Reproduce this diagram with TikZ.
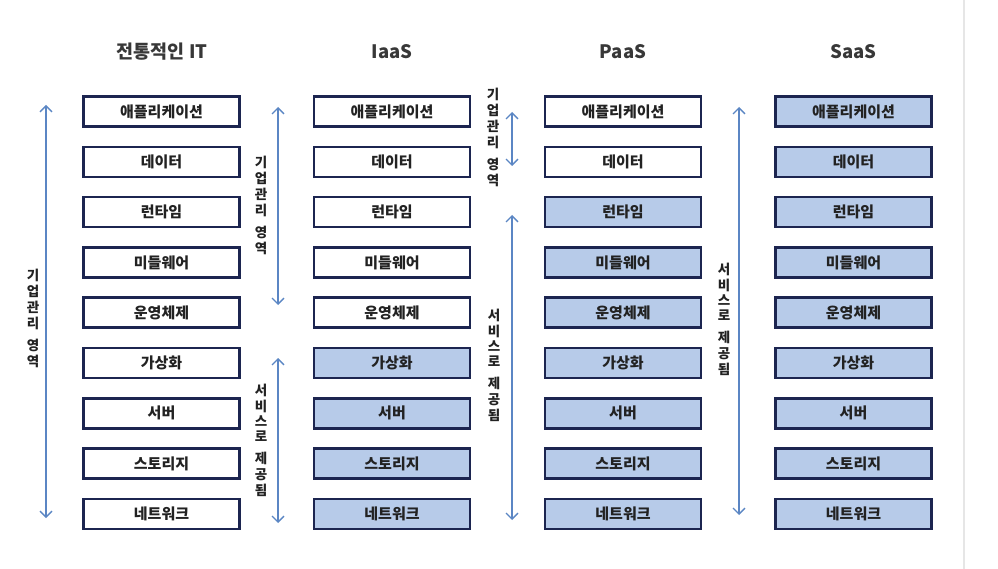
\documentclass[tikz,border=0pt]{standalone}
\usepackage{fontspec}
\setmainfont{Noto Sans CJK KR}
\usetikzlibrary{arrows.meta}
\definecolor{boxline}{HTML}{1C2550}
\definecolor{boxfill}{HTML}{B7CBE9}
\definecolor{arrowblue}{HTML}{5B86C4}
\definecolor{txt}{HTML}{222222}
\definecolor{edge}{HTML}{E6E6E6}
\newcommand{\vstack}[2]{{\bfseries\renewcommand{\arraystretch}{0.98}\setlength{\tabcolsep}{0pt}\begin{tabular}{c}#1\\[6pt]#2\end{tabular}}}
\begin{document}
\begin{tikzpicture}[x=1pt,y=-1pt,
  layer/.style={draw=boxline, line width=2.5pt, minimum width=156pt, minimum height=30pt,
    inner sep=0pt, font=\bfseries\fontsize{15}{15}\selectfont, text=txt, fill=white},
  svc/.style={layer, fill=boxfill},
  coltitle/.style={font=\bfseries\fontsize{18.5}{18.5}\selectfont, text=black!78},
  vlabel/.style={font=\fontsize{13.5}{15.5}\selectfont\bfseries, text=txt, inner sep=0pt},
  span/.style={draw=arrowblue, line width=1.3pt, {Straight Barb[length=6pt,width=12pt]}-{Straight Barb[length=6pt,width=12pt]}}
]
\useasboundingbox (0,0) rectangle (998,569);
\fill[white] (0,0) rectangle (998,569);
\draw[edge, line width=1.5pt] (964,0) -- (964,569);

% titles
\node[coltitle] (t1) at (162,52) {전통적인 IT};
\node[coltitle] (t2) at (392,52) {IaaS};
\node[coltitle] (t3) at (623,52) {PaaS};
\node[coltitle] (t4) at (853.5,52) {SaaS};

% layer names
\def\layername#1{\ifcase#1\or 애플리케이션\or 데이터\or 런타임\or 미들웨어\or 운영체제\or 가상화\or 서버\or 스토리지\or 네트워크\fi}

\foreach \i in {1,...,9}{
  \pgfmathsetmacro{\yy}{111.5+50.3*(\i-1)}
  % traditional IT: all managed
  \node[layer] (a\i) at (161.5,\yy) {\layername{\i}};
  % IaaS: 6-9 provided
  \ifnum\i>5 \node[svc] (b\i) at (392,\yy) {\layername{\i}};
  \else \node[layer] (b\i) at (392,\yy) {\layername{\i}}; \fi
  % PaaS: 3-9 provided
  \ifnum\i>2 \node[svc] (c\i) at (623,\yy) {\layername{\i}};
  \else \node[layer] (c\i) at (623,\yy) {\layername{\i}}; \fi
  % SaaS: all provided
  \node[svc] (d\i) at (853.5,\yy) {\layername{\i}};
}

% arrow end points
\coordinate (p1t) at (46,105);  \coordinate (p1b) at (46,518);
\coordinate (p2t) at (278,107); \coordinate (p2b) at (278,305);
\coordinate (p3t) at (278,358); \coordinate (p3b) at (278,523);
\coordinate (p4t) at (512,112); \coordinate (p4b) at (512,166);
\coordinate (p5t) at (512,215); \coordinate (p5b) at (512,520);
\coordinate (p6t) at (739,107); \coordinate (p6b) at (739,515);

\draw[span] (p1t) -- (p1b);
\draw[span] (p2t) -- (p2b);
\draw[span] (p3t) -- (p3b);
\draw[span] (p4t) -- (p4b);
\draw[span] (p5t) -- (p5b);
\draw[span] (p6t) -- (p6b);

% vertical labels
\node[vlabel] (l1) at (33,320) {\vstack{기\\업\\관\\리}{영\\역}};
\node[vlabel] (l2) at (261,207) {\vstack{기\\업\\관\\리}{영\\역}};
\node[vlabel] (l3) at (261,442) {\vstack{서\\비\\스\\로}{제\\공\\됨}};
\node[vlabel] (l4) at (493,139) {\vstack{기\\업\\관\\리}{영\\역}};
\node[vlabel] (l5) at (494,367) {\vstack{서\\비\\스\\로}{제\\공\\됨}};
\node[vlabel] (l6) at (724,321) {\vstack{서\\비\\스\\로}{제\\공\\됨}};
\end{tikzpicture}
\end{document}
